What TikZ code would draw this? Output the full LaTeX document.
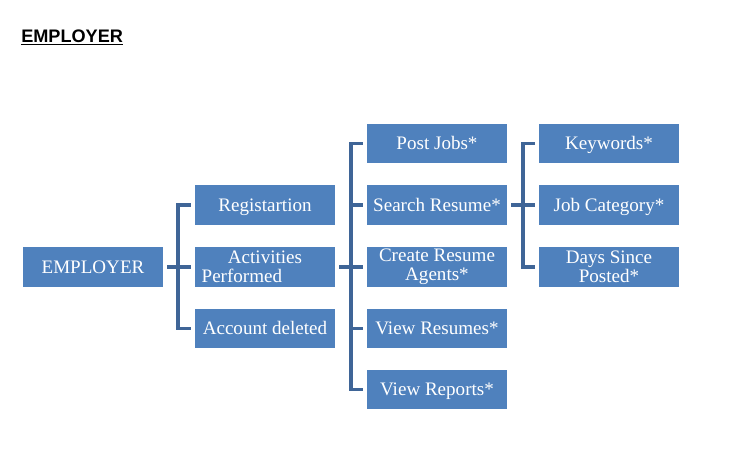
\documentclass[tikz,border=0pt]{standalone}
\usepackage{fontspec}
\setmainfont{Liberation Serif}
\newfontfamily\arialb{Liberation Sans}
\definecolor{boxblue}{HTML}{4F81BD}
\definecolor{linkblue}{HTML}{3F6597}
\begin{document}
\begin{tikzpicture}[x=0.75pt,y=-0.75pt,
  box/.style={fill=boxblue, minimum width=105pt, minimum height=29.6pt, inner sep=0pt,
    text=white, font=\fontsize{14.3}{14.3}\selectfont, align=center},
  one/.style={box, text height=10.5pt, text depth=1.5pt},
  link/.style={draw=linkblue, line width=2.6pt, line join=miter}]
\useasboundingbox (0,0) rectangle (729,451);
\node[anchor=base west, inner sep=0pt, font=\arialb\bfseries\fontsize{13.6}{16}\selectfont] (title) at (21,42.5) {\underline{EMPLOYER}};

\node[one] (emp) at (93,267) {EMPLOYER};
\node[one] (reg) at (265,205) {Registartion};
\node[box, align=left, text width=95pt] (act) at (265,267) {\makebox[95pt]{Activities}\\Performed};
\node[one] (acc) at (265,328.5) {Account deleted};

\node[one] (post) at (437,143.5) {Post Jobs*};
\node[one] (search) at (437,205) {Search Resume*};
\node[box] (create) at (437,267) {Create Resume\\Agents*};
\node[one] (viewres) at (437,328.5) {View Resumes*};
\node[one] (viewrep) at (437,389.5) {View Reports*};

\node[one] (key) at (609,143.5) {Keywords*};
\node[one] (cat) at (609,205) {Job Category*};
\node[box] (days) at (609,267) {Days Since\\Posted*};

\coordinate (b1) at (178,267);
\coordinate (b2) at (351,267);
\coordinate (b3) at (523,205);

\draw[link] ([xshift=3pt]emp.east) -- (b1);
\draw[link] ([xshift=-3pt]reg.west) -| (b1) |- ([xshift=-3pt]acc.west);
\draw[link] (b1) -- ([xshift=-3pt]act.west);

\draw[link] ([xshift=3pt]act.east) -- (b2);
\draw[link] ([xshift=-3pt]post.west) -| (b2) |- ([xshift=-3pt]viewrep.west);
\draw[link] (b2 |- search) -- ([xshift=-3pt]search.west);
\draw[link] (b2) -- ([xshift=-3pt]create.west);
\draw[link] (b2 |- viewres) -- ([xshift=-3pt]viewres.west);

\draw[link] ([xshift=3pt]search.east) -- (b3);
\draw[link] ([xshift=-3pt]key.west) -| (b3) |- ([xshift=-3pt]days.west);
\draw[link] (b3) -- ([xshift=-3pt]cat.west);
\end{tikzpicture}
\end{document}
